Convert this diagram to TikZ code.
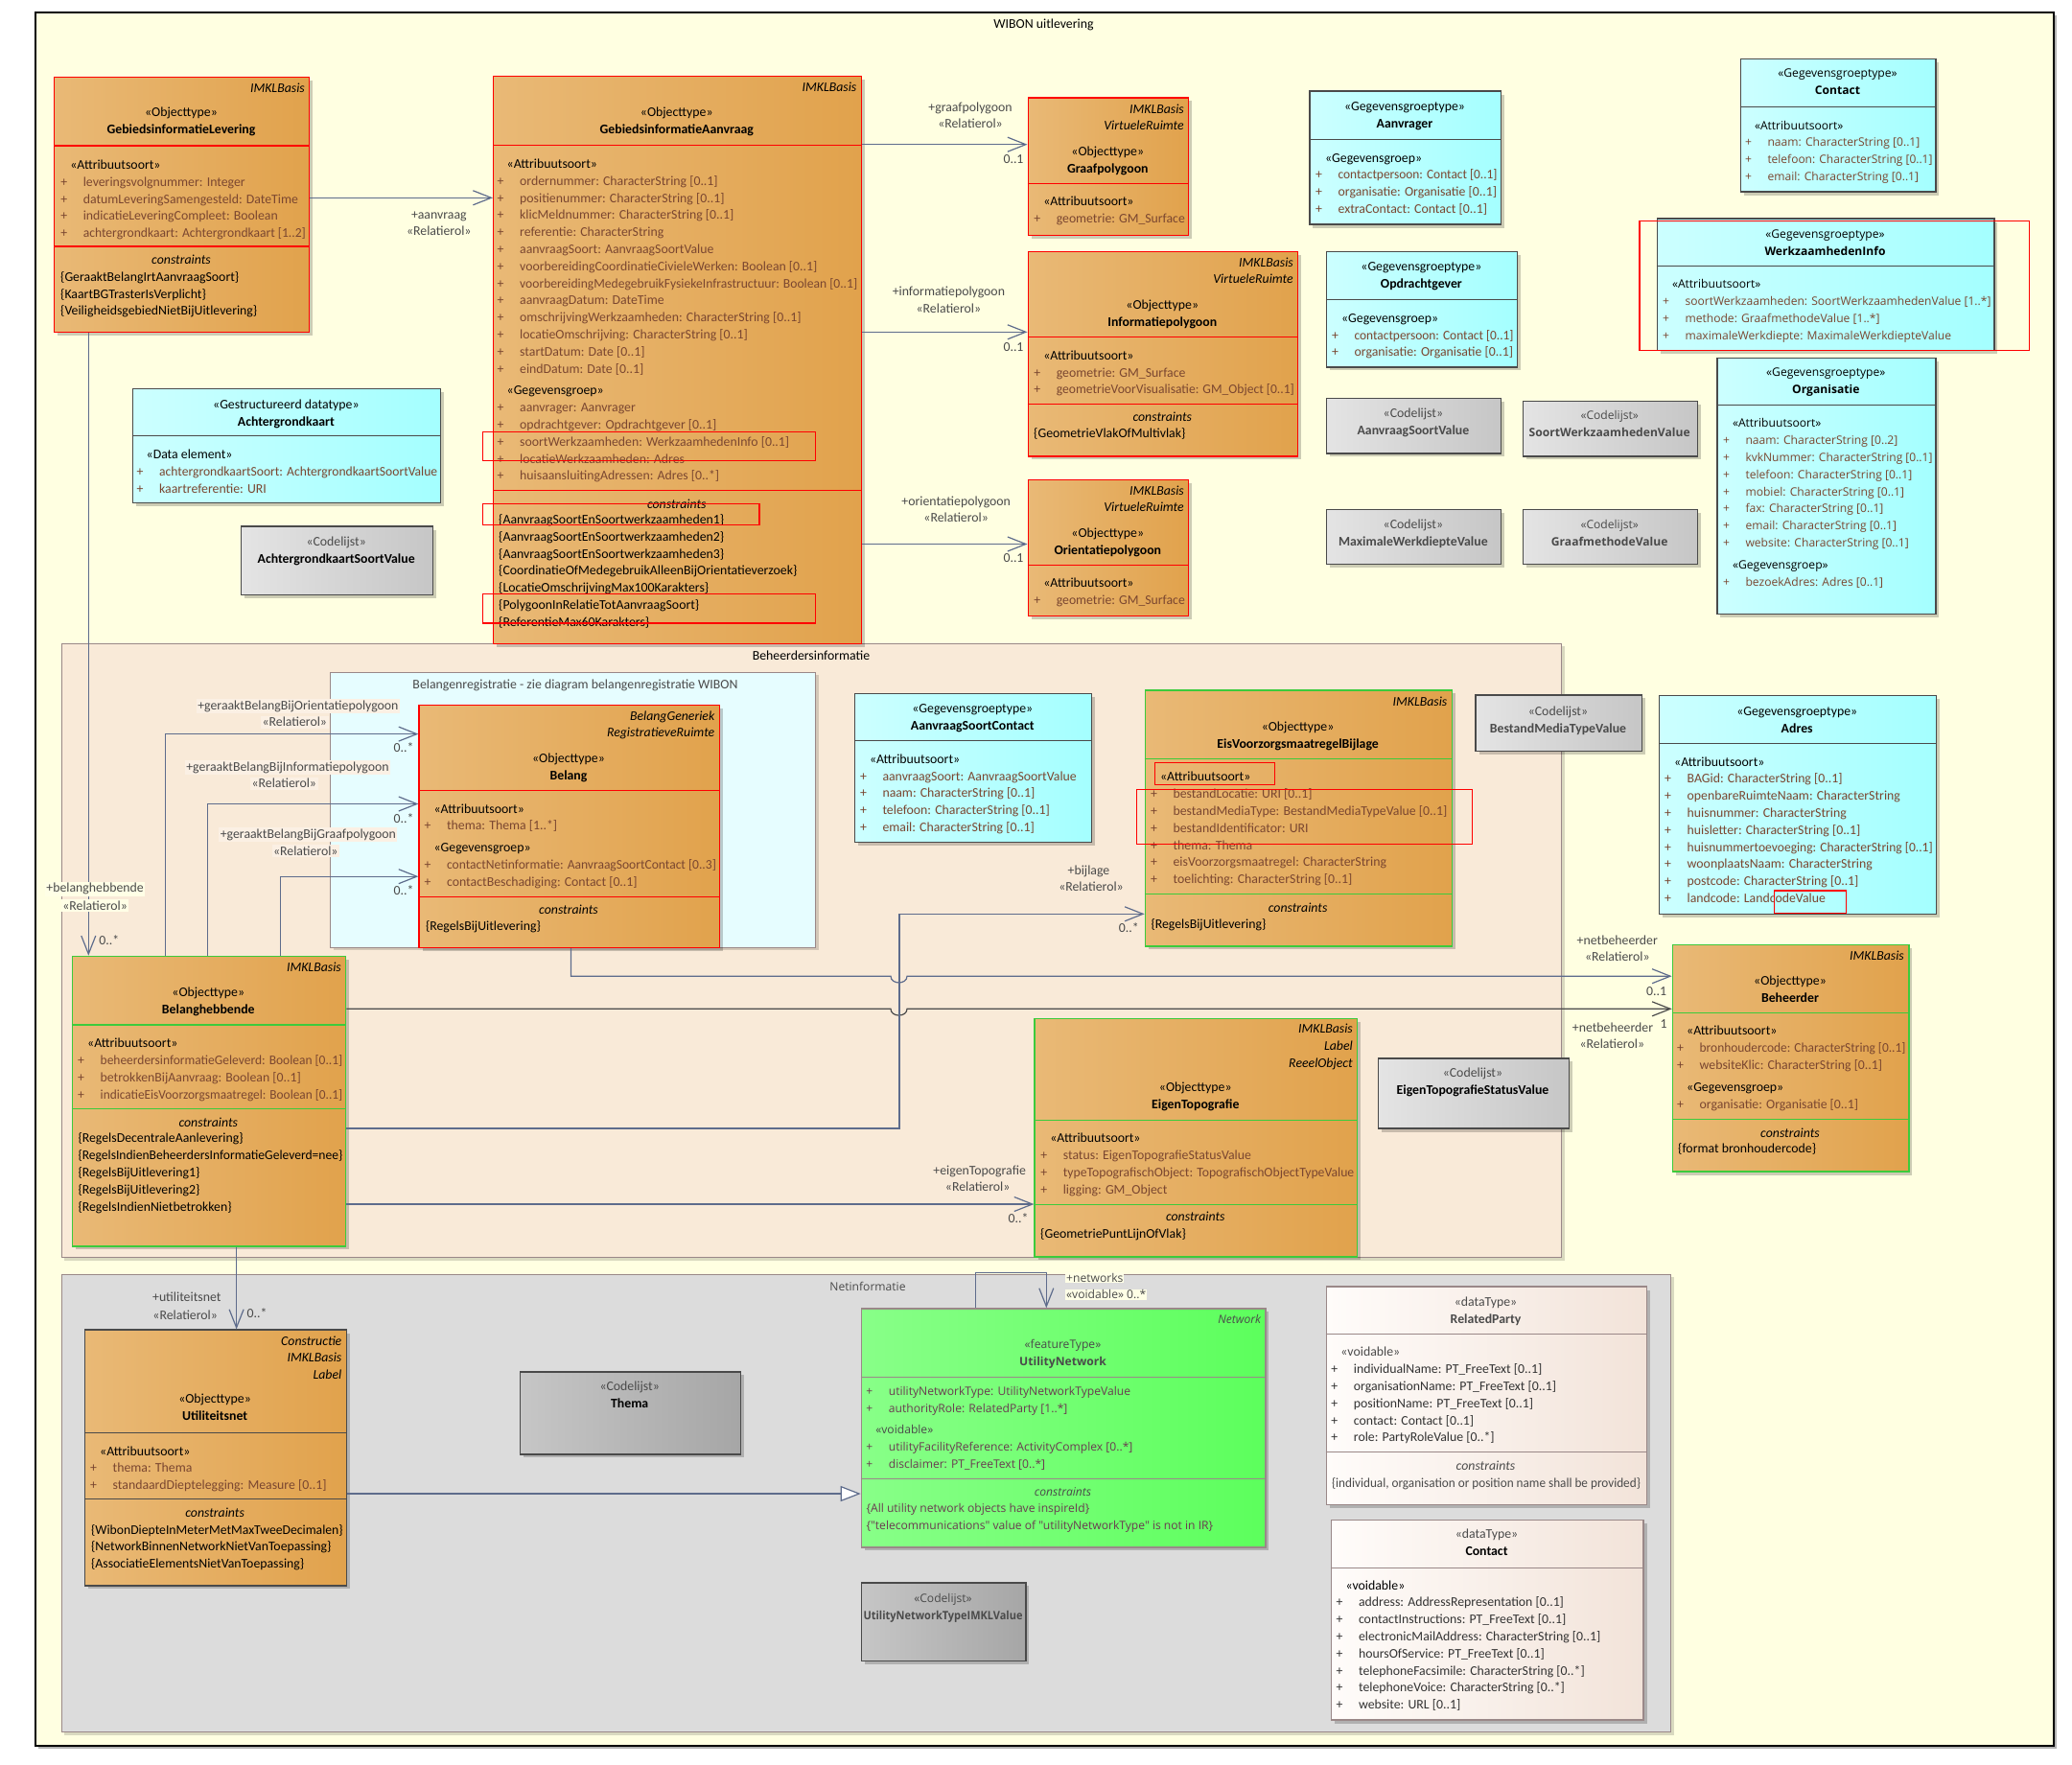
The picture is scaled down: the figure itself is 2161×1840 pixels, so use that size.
\documentclass[tikz,border=0pt]{standalone}
\usepackage{fontspec}
\setmainfont{Carlito}
\newfontfamily\wfam{Open Sans}
\usetikzlibrary{arrows.meta,shadows}
\definecolor{bgY}{HTML}{FFFFE1}
\definecolor{oraL}{HTML}{E9B976}
\definecolor{oraR}{HTML}{E1A24C}
\definecolor{cyL}{HTML}{CCFFFF}
\definecolor{cyR}{HTML}{A4FFFF}
\definecolor{gyL}{HTML}{E4E4E4}
\definecolor{gyR}{HTML}{C6C6C6}
\definecolor{dgL}{HTML}{C6C6C6}
\definecolor{dgR}{HTML}{A6A6A6}
\definecolor{unL}{HTML}{88FF88}
\definecolor{unR}{HTML}{5CFF5C}
\definecolor{dtL}{HTML}{FFFCFA}
\definecolor{dtR}{HTML}{F2E3D9}
\definecolor{grnB}{HTML}{3CCB3C}
\definecolor{bdG}{HTML}{4A4A4A}
\definecolor{mauve}{HTML}{9A8888}
\definecolor{connC}{HTML}{5E6C8C}
\definecolor{attrc}{HTML}{7A4630}
\definecolor{attrU}{HTML}{6A3A50}
\definecolor{lblc}{HTML}{4A4A4A}
\definecolor{pkgB}{HTML}{F9EAD8}
\definecolor{pkgC}{HTML}{E6FDFF}
\definecolor{pkgN}{HTML}{DCDCDC}
\definecolor{lblbg}{HTML}{FBF0E4}
\definecolor{ivory}{HTML}{FFFFE6}
\definecolor{clc}{HTML}{4A4A4A}
\newcommand\nf{\fontsize{13.8}{17.8}\selectfont}
\newcommand\wideF{\wfam\fontsize{12.1}{17.8}\selectfont}
\newdimen\mwd
\newsavebox\fbx
\newcommand\fitw[1]{\sbox\fbx{#1}\ifdim\wd\fbx>\mwd\resizebox{\mwd}{\height}{\usebox\fbx}\else\usebox\fbx\fi}
\newcommand\Ar[1]{\hbox{\color{attrc}\makebox[23.5pt][l]{+}\fitw{#1}}}
\newcommand\Sq[1]{\hbox{\hspace*{10pt}#1}}
\newcommand\Cn[1]{\hbox{\fitw{\{#1\}}}}
\newcommand\Gp{\vskip5pt}
\newcommand\blk[2]{\vtop{\mwd=#1pt\relax\baselineskip=17.8pt\lineskiplimit=-100pt\relax#2}}
\newcommand\bx[6]{\node[#2, anchor=north west, minimum width={(#5)-(#3)}, minimum height={(#6)-(#4)}] (#1) at (#3,#4) {};}
\newcommand\dvd[4]{\draw[line width=1.3pt,#1] (#2,#4) -- (#3,#4);}
\newcommand\tg[3]{\node[anchor=base east] at (#1,#2) {\vtop{\baselineskip=17.6pt\lineskiplimit=-100pt\halign{\hfil\itshape##\cr#3\crcr}}};}
\newcommand\hd[4]{\node[anchor=base] at (#1,#2) {#3}; \node[anchor=base] at (#1,#2+18) {\textbf{#4}};}
\newcommand\cst[2]{\node[anchor=base] at (#1,#2) {\itshape constraints};}
\newcommand\lb[4][]{\node[lbl,#1] at (#2,#3+4.5) {#4};}
\begin{document}
\begin{tikzpicture}[x=1pt,y=-1pt,
 every node/.style={inner sep=0pt,font=\nf},
 box/.style={draw, line width=1.3pt, drop shadow={shadow xshift=3.5pt,shadow yshift=-3.5pt,fill=black,opacity=0.2}},
 ora/.style={box,left color=oraL,right color=oraR},
 cya/.style={box,left color=cyL,right color=cyR,draw=bdG},
 cod/.style={box,left color=gyL,right color=gyR,draw=bdG},
 dcod/.style={box,left color=dgL,right color=dgR,draw=bdG},
 unb/.style={box,left color=unL,right color=unR,draw=mauve},
 dtb/.style={box,left color=dtL,right color=dtR,draw=mauve},
 pkg/.style={draw=mauve,line width=1pt,drop shadow={shadow xshift=3pt,shadow yshift=-3pt,fill=black,opacity=0.15}},
 tx/.style={anchor=base west},
 conn/.style={draw=connC,line width=1.2pt},
 oa/.style={-{Straight Barb[length=19pt,width=15pt]}},
 gen/.style={-{Triangle[length=21pt,width=16pt,fill=white]}},
 lbl/.style={text=lblc,anchor=base}]
\useasboundingbox (0,0) rectangle (2161,1840);
\fill[white] (0,0) rectangle (2161,1840);
% frame
\node[draw=black,line width=2pt,fill=bgY,anchor=north west,minimum width=2105pt,minimum height=1808pt,drop shadow={shadow xshift=3pt,shadow yshift=-3pt,fill=black,opacity=0.3}] (wibon) at (36,12) {};
\node[anchor=base] (wibonlbl) at (1088.5,29.5) {WIBON uitlevering};
% packages
\bx{beh}{pkg,fill=pkgB}{63.5}{670.5}{1628}{1311}
\node[anchor=base] (behlbl) at (846,688.5) {Beheerdersinformatie};
\bx{belreg}{pkg,fill=pkgC}{344.4}{700.8}{850.1}{987.9}
\node[anchor=base,text=lblc] (belreglbl) at (600,718.4) {Belangenregistratie - zie diagram belangenregistratie WIBON};
\bx{netinf}{pkg,fill=pkgN}{63.5}{1328.5}{1742}{1806}
\node[anchor=base,text=lblc] (netlbl) at (905,1346.5) {\wideF Netinformatie};

% GebiedsinformatieLevering
\bx{GL}{ora,draw=red}{56}{80}{322}{346}
\dvd{red}{56}{322}{152}
\dvd{red}{56}{322}{257}
\tg{318}{96.5}{IMKLBasis}
\hd{189}{121.5}{«Objecttype»}{GebiedsinformatieLevering}
\node[tx] at (63.1,176.5) {\blk{232}{\Sq{«Attribuutsoort»}\Ar{leveringsvolgnummer: Integer}\Ar{datumLeveringSamengesteld: DateTime}\Ar{indicatieLeveringCompleet: Boolean}\Ar{achtergrondkaart: Achtergrondkaart [1..2]}}};
\cst{189}{275.2}
\node[tx] at (63,293.2) {\blk{255}{\Cn{GeraaktBelangIrtAanvraagSoort}\Cn{KaartBGTrasterIsVerplicht}\Cn{VeiligheidsgebiedNietBijUitlevering}}};

% GebiedsinformatieAanvraag
\bx{GA}{ora,draw=red}{514}{79}{897.6}{671}
\dvd{red}{514}{897.6}{151.8}
\dvd{red}{514}{897.6}{511.6}
\tg{893.5}{95.5}{IMKLBasis}
\hd{705.8}{121.5}{«Objecttype»}{GebiedsinformatieAanvraag}
\node[tx] at (518.5,175.5) {\blk{352}{\Sq{«Attribuutsoort»}\Ar{ordernummer: CharacterString [0..1]}\Ar{positienummer: CharacterString [0..1]}\Ar{klicMeldnummer: CharacterString [0..1]}\Ar{referentie: CharacterString}\Ar{aanvraagSoort: AanvraagSoortValue}\Ar{voorbereidingCoordinatieCivieleWerken: Boolean [0..1]}\Ar{voorbereidingMedegebruikFysiekeInfrastructuur: Boolean [0..1]}\Ar{aanvraagDatum: DateTime}\Ar{omschrijvingWerkzaamheden: CharacterString [0..1]}\Ar{locatieOmschrijving: CharacterString [0..1]}\Ar{startDatum: Date [0..1]}\Ar{eindDatum: Date [0..1]}\Gp\Sq{«Gegevensgroep»}\Ar{aanvrager: Aanvrager}\Ar{opdrachtgever: Opdrachtgever [0..1]}\Ar{soortWerkzaamheden: WerkzaamhedenInfo [0..1]}\Ar{locatieWerkzaamheden: Adres}\Ar{huisaansluitingAdressen: Adres [0..*]}}};
\cst{705.8}{530.2}
\node[tx] at (520,546.5) {\blk{374}{\Cn{AanvraagSoortEnSoortwerkzaamheden1}\Cn{AanvraagSoortEnSoortwerkzaamheden2}\Cn{AanvraagSoortEnSoortwerkzaamheden3}\Cn{CoordinatieOfMedegebruikAlleenBijOrientatieverzoek}\Cn{LocatieOmschrijvingMax100Karakters}\Cn{PolygoonInRelatieTotAanvraagSoort}\Cn{ReferentieMax60Karakters}}};

% Graafpolygoon
\bx{GP}{ora,draw=red}{1071.5}{101.3}{1239}{244.5}
\dvd{red}{1071.5}{1239}{191.3}
\tg{1235}{118.1}{IMKLBasis\cr VirtueleRuimte}
\hd{1155.3}{162.1}{«Objecttype»}{Graafpolygoon}
\node[tx] at (1078.1,214.9) {\blk{134}{\Sq{«Attribuutsoort»}\Ar{geometrie: GM\_Surface}}};

% Informatiepolygoon
\bx{IP}{ora,draw=red}{1071.5}{261.7}{1353}{475.2}
\dvd{red}{1071.5}{1353}{351.6}
\dvd{red}{1071.5}{1353}{421.6}
\tg{1349}{278}{IMKLBasis\cr VirtueleRuimte}
\hd{1212.3}{322.1}{«Objecttype»}{Informatiepolygoon}
\node[tx] at (1078.1,375.3) {\blk{248}{\Sq{«Attribuutsoort»}\Ar{geometrie: GM\_Surface}\Ar{geometrieVoorVisualisatie: GM\_Object [0..1]}}};
\cst{1212.3}{439.2}
\node[tx] at (1078,456.8) {\blk{270}{\Cn{GeometrieVlakOfMultivlak}}};

% Orientatiepolygoon
\bx{OP}{ora,draw=red}{1071.5}{499.7}{1239}{641.7}
\dvd{red}{1071.5}{1239}{589.7}
\tg{1235}{516.1}{IMKLBasis\cr VirtueleRuimte}
\hd{1155.3}{560.1}{«Objecttype»}{Orientatiepolygoon}
\node[tx] at (1078.1,612.9) {\blk{134}{\Sq{«Attribuutsoort»}\Ar{geometrie: GM\_Surface}}};

% Aanvrager
\bx{AV}{cya}{1365.3}{94.4}{1565}{233.4}
\dvd{bdG}{1365.3}{1565}{145.3}
\hd{1465}{115.8}{«Gegevensgroeptype»}{Aanvrager}
\node[tx] at (1371.9,169) {\blk{166}{\Sq{«Gegevensgroep»}\Ar{contactpersoon: Contact [0..1]}\Ar{organisatie: Organisatie [0..1]}\Ar{extraContact: Contact [0..1]}}};

% Opdrachtgever
\bx{OG}{cya}{1382.8}{261.7}{1582}{382.2}
\dvd{bdG}{1382.8}{1582}{312.6}
\hd{1482.4}{282.3}{«Gegevensgroeptype»}{Opdrachtgever}
\node[tx] at (1388.9,336.2) {\blk{166}{\Sq{«Gegevensgroep»}\Ar{contactpersoon: Contact [0..1]}\Ar{organisatie: Organisatie [0..1]}}};

% Codelists top
\bx{ASV}{cod}{1382.8}{414.8}{1565}{472.2}
\hd{1473.9}{435}{\color{clc}«Codelijst»}{\color{clc}AanvraagSoortValue}
\bx{SWV}{cod}{1587.5}{417.8}{1769.8}{475.2}
\hd{1678.7}{437.5}{\color{clc}\wideF «Codelijst»}{\color{clc}\wideF SoortWerkzaamhedenValue}
\bx{MWV}{cod}{1382.8}{530.7}{1565}{588.1}
\hd{1473.9}{551.3}{\color{clc}«Codelijst»}{\color{clc}MaximaleWerkdiepteValue}
\bx{GMV}{cod}{1587.5}{530.7}{1769.8}{588.1}
\hd{1678.7}{551.3}{\color{clc}\wideF «Codelijst»}{\color{clc}\wideF GraafmethodeValue}

% Contact (top)
\bx{CT}{cya}{1814.7}{60.6}{2018.3}{199.4}
\dvd{bdG}{1814.7}{2018.3}{111.6}
\hd{1916.5}{80.9}{\wideF «Gegevensgroeptype»}{\wideF Contact}
\node[tx] at (1819.8,135) {\wideF\blk{172}{\Sq{«Attribuutsoort»}\Ar{naam: CharacterString [0..1]}\Ar{telefoon: CharacterString [0..1]}\Ar{email: CharacterString [0..1]}}};

% WerkzaamhedenInfo
\bx{WI}{cya}{1727.7}{227.4}{2079.3}{365}
\dvd{bdG}{1727.7}{2079.3}{277.6}
\hd{1903.5}{248.1}{\wideF «Gegevensgroeptype»}{\wideF WerkzaamhedenInfo}
\node[tx] at (1733.8,300.7) {\wideF\blk{319}{\Sq{«Attribuutsoort»}\Ar{soortWerkzaamheden: SoortWerkzaamhedenValue [1..*]}\Ar{methode: GraafmethodeValue [1..*]}\Ar{maximaleWerkdiepte: MaximaleWerkdiepteValue}}};

% Organisatie
\bx{ORG}{cya}{1790.3}{372.5}{2018.3}{639.8}
\dvd{bdG}{1790.3}{2018.3}{422.4}
\hd{1904.3}{392.9}{\wideF «Gegevensgroeptype»}{\wideF Organisatie}
\node[tx] at (1796.8,445.8) {\wideF\blk{195}{\Sq{«Attribuutsoort»}\Ar{naam: CharacterString [0..2]}\Ar{kvkNummer: CharacterString [0..1]}\Ar{telefoon: CharacterString [0..1]}\Ar{mobiel: CharacterString [0..1]}\Ar{fax: CharacterString [0..1]}\Ar{email: CharacterString [0..1]}\Ar{website: CharacterString [0..1]}\Gp\Sq{«Gegevensgroep»}\Ar{bezoekAdres: Adres [0..1]}}};

% Achtergrondkaart
\bx{AK}{cya}{137.8}{405}{458.9}{523.6}
\dvd{bdG}{137.8}{458.9}{454.7}
\hd{298.4}{426.2}{«Gestructureerd datatype»}{Achtergrondkaart}
\node[tx] at (142.5,478.5) {\blk{290}{\Sq{«Data element»}\Ar{achtergrondkaartSoort: AchtergrondkaartSoortValue}\Ar{kaartreferentie: URI}}};
\bx{AKSV}{cod}{250.8}{548.4}{450.6}{620}
\hd{350.7}{569.5}{\color{clc}«Codelijst»}{\color{black}AchtergrondkaartSoortValue}

% Belang
\bx{Belang}{ora,draw=red}{436.4}{734.5}{749.7}{987.9}
\dvd{red}{436.4}{749.7}{824.6}
\dvd{red}{436.4}{749.7}{935.7}
\tg{745.5}{751.2}{BelangGeneriek\cr RegistratieveRuimte}
\hd{593}{795.4}{«Objecttype»}{Belang}
\node[tx] at (442.4,848) {\blk{280.8}{\Sq{«Attribuutsoort»}\Ar{thema: Thema [1..*]}\Gp\Sq{«Gegevensgroep»}\Ar{contactNetinformatie: AanvraagSoortContact [0..3]}\Ar{contactBeschadiging: Contact [0..1]}}};
\cst{593}{953.2}
\node[tx] at (443.8,970.9) {\blk{300}{\Cn{RegelsBijUitlevering}}};

% Belanghebbende
\bx{Bh}{ora,draw=grnB}{74.5}{996.7}{360.1}{1299.3}
\dvd{grnB}{74.5}{360.1}{1069}
\dvd{grnB}{74.5}{360.1}{1156.2}
\tg{356}{1013}{IMKLBasis}
\hd{217.3}{1039.1}{«Objecttype»}{Belanghebbende}
\node[tx] at (81,1092.9) {\blk{252.6}{\Sq{«Attribuutsoort»}\Ar{beheerdersinformatieGeleverd: Boolean [0..1]}\Ar{betrokkenBijAanvraag: Boolean [0..1]}\Ar{indicatieEisVoorzorgsmaatregel: Boolean [0..1]}}};
\cst{217.3}{1175}
\node[tx] at (81.3,1191.9) {\blk{275.8}{\Cn{RegelsDecentraleAanlevering}\Cn{RegelsIndienBeheerdersInformatieGeleverd=nee}\Cn{RegelsBijUitlevering1}\Cn{RegelsBijUitlevering2}\Cn{RegelsIndienNietbetrokken}}};

% AanvraagSoortContact
\bx{ASC}{cya}{891.1}{722.7}{1137.6}{878}
\dvd{bdG}{891.1}{1137.6}{772.4}
\hd{1014.3}{743.2}{«Gegevensgroeptype»}{AanvraagSoortContact}
\node[tx] at (896.8,796.2) {\blk{214}{\Sq{«Attribuutsoort»}\Ar{aanvraagSoort: AanvraagSoortValue}\Ar{naam: CharacterString [0..1]}\Ar{telefoon: CharacterString [0..1]}\Ar{email: CharacterString [0..1]}}};

% EisVoorzorgsmaatregelBijlage
\bx{Eis}{ora,draw=grnB}{1193.7}{719.3}{1513.6}{986.2}
\dvd{grnB}{1193.7}{1513.6}{791.3}
\dvd{grnB}{1193.7}{1513.6}{932.7}
\tg{1509.5}{736.5}{IMKLBasis}
\hd{1353.6}{762.1}{«Objecttype»}{EisVoorzorgsmaatregelBijlage}
\node[tx] at (1199.9,814.8) {\blk{287}{\Sq{«Attribuutsoort»}\Ar{bestandLocatie: URI [0..1]}\Ar{bestandMediaType: BestandMediaTypeValue [0..1]}\Ar{bestandIdentificator: URI}\Ar{thema: Thema}\Ar{eisVoorzorgsmaatregel: CharacterString}\Ar{toelichting: CharacterString [0..1]}}};
\cst{1353.6}{951.1}
\node[tx] at (1200.3,968) {\blk{300}{\Cn{RegelsBijUitlevering}}};

\bx{BMT}{cod}{1538.4}{724.3}{1711.6}{782.5}
\hd{1625}{746.3}{\color{clc}«Codelijst»}{\color{clc}BestandMediaTypeValue}

% Adres
\bx{AD}{cya}{1729.8}{724.6}{2018.5}{952.5}
\dvd{bdG}{1729.8}{2018.5}{775.4}
\hd{1874.2}{746.3}{«Gegevensgroeptype»}{Adres}
\node[tx] at (1736,799.1) {\blk{256}{\Sq{«Attribuutsoort»}\Ar{BAGid: CharacterString [0..1]}\Ar{openbareRuimteNaam: CharacterString}\Ar{huisnummer: CharacterString}\Ar{huisletter: CharacterString [0..1]}\Ar{huisnummertoevoeging: CharacterString [0..1]}\Ar{woonplaatsNaam: CharacterString}\Ar{postcode: CharacterString [0..1]}\Ar{landcode: LandcodeValue}}};

% Beheerder
\bx{Bhr}{ora,draw=grnB}{1743.7}{984.6}{1990.3}{1221.4}
\dvd{grnB}{1743.7}{1990.3}{1056.4}
\dvd{grnB}{1743.7}{1990.3}{1167.5}
\tg{1986}{1001.3}{IMKLBasis}
\hd{1867}{1027}{«Objecttype»}{Beheerder}
\node[tx] at (1749,1079.9) {\blk{214.8}{\Sq{«Attribuutsoort»}\Ar{bronhoudercode: CharacterString [0..1]}\Ar{websiteKlic: CharacterString [0..1]}\Gp\Sq{«Gegevensgroep»}\Ar{organisatie: Organisatie [0..1]}}};
\cst{1867}{1186.3}
\node[tx] at (1750,1202.4) {\blk{235}{\hbox{\{format bronhoudercode\}}}};

% EigenTopografie
\bx{ET}{ora,draw=grnB}{1078.4}{1061.5}{1415.1}{1310.2}
\dvd{grnB}{1078.4}{1415.1}{1168.4}
\dvd{grnB}{1078.4}{1415.1}{1256.4}
\tg{1411}{1077.8}{IMKLBasis\cr Label\cr ReeelObject}
\hd{1246.8}{1138.8}{«Objecttype»}{EigenTopografie}
\node[tx] at (1085.1,1191.9) {\blk{303.5}{\Sq{«Attribuutsoort»}\Ar{status: EigenTopografieStatusValue}\Ar{typeTopografischObject: TopografischObjectTypeValue}\Ar{ligging: GM\_Object}}};
\cst{1246.8}{1273.9}
\node[tx] at (1085,1291.6) {\blk{320}{\Cn{GeometriePuntLijnOfVlak}}};

\bx{ETS}{cod}{1436.5}{1103.2}{1635.5}{1176.4}
\hd{1536}{1123.7}{\color{clc}«Codelijst»}{\color{black}EigenTopografieStatusValue}

% Utiliteitsnet
\bx{Un}{ora,draw=bdG}{87.6}{1386.4}{360.6}{1653.3}
\dvd{bdG}{87.6}{360.6}{1494.6}
\dvd{bdG}{87.6}{360.6}{1563.8}
\tg{356.5}{1403.3}{Constructie\cr IMKLBasis\cr Label}
\hd{224.1}{1463.9}{«Objecttype»}{Utiliteitsnet}
\node[tx] at (94,1518) {\blk{240}{\Sq{«Attribuutsoort»}\Ar{thema: Thema}\Ar{standaardDieptelegging: Measure [0..1]}}};
\cst{224.1}{1582}
\node[tx] at (94.9,1600) {\blk{262.6}{\Cn{WibonDiepteInMeterMetMaxTweeDecimalen}\Cn{NetworkBinnenNetworkNietVanToepassing}\Cn{AssociatieElementsNietVanToepassing}}};

\bx{TH}{dcod}{541.6}{1430.2}{771.7}{1516.3}
\hd{656.7}{1450.8}{\color{clc}«Codelijst»}{\color{black}Thema}

% UtilityNetwork
\bx{UN}{unb}{897.7}{1364.3}{1319.3}{1613.3}
\dvd{mauve}{897.7}{1319.3}{1436.7}
\dvd{mauve}{897.7}{1319.3}{1542.3}
\node[anchor=base east] at (1315.3,1380.8) {\wideF\color{clc}\itshape Network};
\hd{1108.5}{1406.8}{\wideF\color{clc}«featureType»}{\wideF\color{clc}UtilityNetwork}
\node[tx] at (903.2,1455.2) {\wideF\colorlet{attrc}{attrU}\blk{389.6}{\Ar{utilityNetworkType: UtilityNetworkTypeValue}\Ar{authorityRole: RelatedParty [1..*]}\Gp\Sq{\color{clc}«voidable»}\Ar{utilityFacilityReference: ActivityComplex [0..*]}\Ar{disclaimer: PT\_FreeText [0..*]}}};
\node[anchor=base] at (1108.5,1560.2) {\wideF\color{clc}\itshape constraints};
\node[tx] at (903.3,1577.8) {\wideF\color{attrU}\blk{410}{\Cn{All utility network objects have inspireId}\Cn{"telecommunications" value of "utilityNetworkType" is not in IR}}};

\bx{UNT}{dcod}{897.7}{1650.3}{1069.3}{1732}
\node[anchor=base] at (983.5,1671.2) {\wideF\color{clc}«Codelijst»};
\node[anchor=base] at (983.5,1689.2) {\resizebox{166pt}{\height}{\wideF\color{clc}\textbf{UtilityNetworkTypeIMKLValue}}};

% RelatedParty
\bx{RP}{dtb}{1382.5}{1341.4}{1716.5}{1568.6}
\dvd{mauve}{1382.5}{1716.5}{1391.5}
\dvd{mauve}{1382.5}{1716.5}{1514.5}
\hd{1549.5}{1362.2}{\color{clc}«dataType»}{\color{clc}RelatedParty}
\node[tx] at (1388.2,1414.9) {\colorlet{attrc}{black!80}\blk{301.8}{\Sq{\color{clc}«voidable»}\Ar{individualName: PT\_FreeText [0..1]}\Ar{organisationName: PT\_FreeText [0..1]}\Ar{positionName: PT\_FreeText [0..1]}\Ar{contact: Contact [0..1]}\Ar{role: PartyRoleValue [0..*]}}};
\node[anchor=base] at (1549.5,1533.2) {\color{clc}\itshape constraints};
\node[anchor=base] at (1550,1551.1) {\color{clc}\mwd=322pt\fitw{\{individual, organisation or position name shall be provided\}}};

% Contact dataType
\bx{CD}{dtb}{1387.6}{1584.5}{1713.4}{1793.4}
\dvd{mauve}{1387.6}{1713.4}{1635.6}
\hd{1550.5}{1604.9}{\color{clc}«dataType»}{\color{black}Contact}
\node[tx] at (1393.3,1658) {\colorlet{attrc}{black!80}\blk{293.6}{\Sq{«voidable»}\Ar{address: AddressRepresentation [0..1]}\Ar{contactInstructions: PT\_FreeText [0..1]}\Ar{electronicMailAddress: CharacterString [0..1]}\Ar{hoursOfService: PT\_FreeText [0..1]}\Ar{telephoneFacsimile: CharacterString [0..*]}\Ar{telephoneVoice: CharacterString [0..*]}\Ar{website: URL [0..1]}}};

% connectors
\draw[conn,oa] (GL.east |- 0,206.3) -- (GA.west |- 0,206.3);
\lb{457.8}{224}{+aanvraag}
\lb{457.8}{240.7}{«Relatierol»}
\draw[conn,oa] (GA.east |- 0,150.7) -- (GP.west |- 0,150.7);
\lb{1012}{111.7}{+graafpolygoon}
\lb{1012}{128.5}{«Relatierol»}
\lb{1057}{165.6}{0..1}
\draw[conn,oa] (GA.east |- 0,346.3) -- (IP.west |- 0,346.3);
\lb{989.4}{303.8}{+informatiepolygoon}
\lb{989.4}{321.8}{«Relatierol»}
\lb{1057}{361.6}{0..1}
\draw[conn,oa] (GA.east |- 0,567.5) -- (OP.west |- 0,567.5);
\lb{997.2}{522.7}{+orientatiepolygoon}
\lb{997.2}{540.3}{«Relatierol»}
\lb{1057}{582.4}{0..1}
\draw[conn,oa] (GL.south -| 92.3,0) -- (Bh.north -| 92.3,0);
\lb[fill=ivory,inner sep=1.5pt]{99.1}{926.4}{+belanghebbende}
\lb[fill=ivory,inner sep=1.5pt]{99.1}{944.5}{«Relatierol»}
\lb{113.8}{980.7}{0..*}
\draw[conn,oa] (Bh.north -| 172.3,0) |- (Belang.west |- 0,765.6);
\lb[fill=lblbg,inner sep=1.5pt]{310.9}{735.8}{+geraaktBelangBijOrientatiepolygoon}
\lb[fill=lblbg,inner sep=1.5pt]{307.3}{753.4}{«Relatierol»}
\lb{421}{780.4}{0..*}
\draw[conn,oa] (Bh.north -| 216.8,0) |- (Belang.west |- 0,838.5);
\lb[fill=lblbg,inner sep=1.5pt]{300}{799.7}{+geraaktBelangBijInformatiepolygoon}
\lb[fill=lblbg,inner sep=1.5pt]{296.3}{817.4}{«Relatierol»}
\lb{421}{853.6}{0..*}
\draw[conn,oa] (Bh.north -| 292.6,0) |- (Belang.west |- 0,914.2);
\lb[fill=lblbg,inner sep=1.5pt]{321.4}{869.6}{+geraaktBelangBijGraafpolygoon}
\lb[fill=lblbg,inner sep=1.5pt]{318.8}{887.7}{«Relatierol»}
\lb{421}{929.4}{0..*}
\draw[conn,oa] (Belang.south -| 595.4,0) -- (595.4,1018.2) -- (929,1018.2) .. controls (929,1027.2) and (946,1027.2) .. (946,1018.2) -- (Bhr.west |- 0,1018.2);
\lb{1686.8}{980.7}{+netbeheerder}
\lb{1686.8}{997.5}{«Relatierol»}
\lb{1727.7}{1033.6}{0..1}
\draw[conn,draw=black!70,oa] (Bh.east |- 0,1052.3) -- (929,1052.3) .. controls (929,1061.3) and (946,1061.3) .. (946,1052.3) -- (Bhr.west |- 0,1052.3);
\lb{1682}{1071.8}{+netbeheerder}
\lb{1681.3}{1089.3}{«Relatierol»}
\lb{1735.2}{1067.9}{1}
\draw[conn,oa] (Bh.east |- 0,1177) -- (938,1177) |- (Eis.west |- 0,953.3);
\lb{1135.5}{907.5}{+bijlage}
\lb{1138}{925}{«Relatierol»}
\lb{1177.3}{967.7}{0..*}
\draw[conn,oa] (Bh.east |- 0,1256) -- (ET.west |- 0,1256);
\lb{1021.7}{1220.6}{+eigenTopografie}
\lb{1019.7}{1238.3}{«Relatierol»}
\lb{1062}{1271}{0..*}
\draw[conn,oa] (Bh.south -| 246.6,0) -- (Un.north -| 246.6,0);
\lb{194.8}{1353.4}{+utiliteitsnet}
\lb{193.2}{1371.6}{«Relatierol»}
\lb{268}{1370}{0..*}
\draw[conn,gen] (Un.east |- 0,1558) -- (UN.west |- 0,1558);
\draw[conn,oa] (UN.north -| 1017.3,0) |- (1054,1327.3) -| (UN.north -| 1091.3,0);
\node[lbl,anchor=base west,fill=ivory,inner sep=1pt] at (1111,1337.2) {\wideF +networks};
\node[lbl,anchor=base west,fill=ivory,inner sep=1pt] at (1111,1354.8) {\wideF «voidable» 0..*};

% red annotation frames
\draw[red,line width=1.2pt] (503.7,450.4) rectangle (850.3,480.2);
\draw[red,line width=1.2pt] (503.7,525.4) rectangle (792,547.2);
\draw[red,line width=1.2pt] (503.7,619.5) rectangle (850.3,650);
\draw[red,line width=1.2pt] (1710,230.6) rectangle (2116.7,365.4);
\draw[red,line width=1.2pt] (1204.4,795.5) rectangle (1329.4,818.2);
\draw[red,line width=1.2pt] (1185.5,823.3) rectangle (1535.5,880.1);
\draw[red,line width=1.2pt] (1850.3,928.9) rectangle (1925.8,952.1);
\end{tikzpicture}
\end{document}
